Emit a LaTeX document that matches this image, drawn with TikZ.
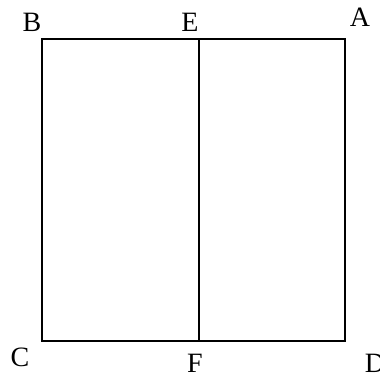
\documentclass[tikz,border=0pt]{standalone}
\usepackage{fontspec}
\setmainfont{Liberation Serif}
\begin{document}
\begin{tikzpicture}[x=1pt,y=-1pt,line width=1.6pt,
    lbl/.style={inner sep=0pt,anchor=base,font=\fontsize{28}{32}\selectfont}]
      \useasboundingbox (0,0) rectangle (380,377);
      \coordinate (b) at (42,39);
      \coordinate (a) at (345,39);
      \coordinate (c) at (42,341);
      \coordinate (d) at (345,341);
      \coordinate (e) at (199,39);
      \coordinate (f) at (199,341);
      \draw (b) -- (a) -- (d) -- (c) -- cycle;
      \draw (e) -- (f);
      \node[lbl] (lb) at (32,32) {B};
      \node[lbl] (le) at (190,32) {E};
      \node[lbl] (la) at (360,27) {A};
      \node[lbl] (lc) at (20,366) {C};
      \node[lbl] (lf) at (195,372) {F};
      \node[lbl] (ld) at (375,372) {D};
    \end{tikzpicture}
\end{document}
